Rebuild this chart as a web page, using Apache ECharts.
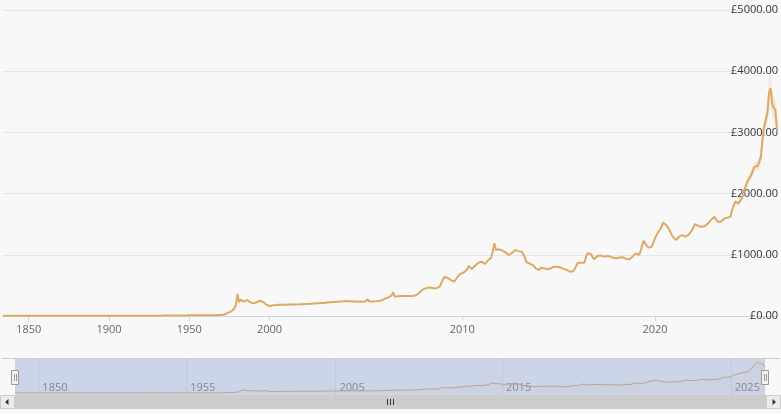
<!DOCTYPE html>
<html>
<head>
<meta charset="utf-8">
<script src="https://cdn.jsdelivr.net/npm/echarts@6/dist/echarts.min.js"></script>
<style>
html,body{margin:0;padding:0;background:#f8f8f8}
#chart{width:781px;height:414px}
</style>
</head>
<body>
<div id="chart"></div>
<script>
// gold price in GBP per oz: yearly 1834-1999, then monthly from 2000-01
const firstYear = 1834;
const yearlyPrice = [
  4.25, 4.25, 4.25, 4.25, 4.25, 4.25, 4.25, 4.25, 4.25, 4.25,
  4.25, 4.25, 4.25, 4.25, 4.25, 4.25, 4.25, 4.25, 4.25, 4.25,
  4.25, 4.25, 4.25, 4.25, 4.25, 4.25, 4.25, 4.25, 4.25, 4.25,
  4.25, 4.25, 4.25, 4.25, 4.25, 4.25, 4.25, 4.25, 4.25, 4.25,
  4.25, 4.25, 4.25, 4.25, 4.25, 4.25, 4.25, 4.25, 4.25, 4.25,
  4.25, 4.25, 4.25, 4.25, 4.25, 4.25, 4.25, 4.25, 4.25, 4.25,
  4.25, 4.25, 4.25, 4.25, 4.25, 4.25, 4.25, 4.25, 4.25, 4.25,
  4.25, 4.25, 4.25, 4.25, 4.25, 4.25, 4.25, 4.25, 4.25, 4.25,
  4.25, 4.25, 4.25, 4.25, 4.25, 4.6, 5.4, 5.0, 4.6, 4.5,      // 1914
  4.6, 4.25, 4.25, 4.25, 4.25, 4.25, 4.25, 4.9, 5.9, 6.3,     // 1924
  6.9, 7.1, 7.0, 7.0, 7.1, 7.7, 8.4, 8.4, 8.4, 8.4,           // 1934
  8.4, 8.4, 8.4, 8.4, 8.4, 10.6, 12.4, 12.4, 12.4, 12.4,      // 1944
  12.4, 12.4, 12.4, 12.4, 12.4, 12.4, 12.4, 12.4, 12.4, 12.4, // 1954
  12.4, 12.4, 12.4, 12.9, 16.2, 17.2, 15.0, 16.8, 24, 40,     // 1964
  55, 68, 72, 88, 120, 175, 359, 225, 268, 250,               // 1974
  234, 255, 261, 235, 224, 210, 207, 207, 225, 245,           // 1984
  250, 245, 230, 207, 185, 169                                // 1994
];
const monthlyPrice = [
  160, 158, 175, 180, 178, 180, 182, 181, 182, 183, 184, 185,           // 2000
  186, 187, 186, 188, 189, 190, 191, 192, 194, 195, 196, 196,           // 2001
  198, 200, 202, 204, 206, 208, 210, 211, 212, 213, 214, 216,           // 2002
  220, 222, 224, 226, 228, 230, 232, 234, 236, 238, 240, 242,           // 2003
  245, 244, 242, 240, 238, 236, 236, 235, 234, 234, 233, 234,           // 2004
  240, 278, 236, 234, 236, 238, 240, 242, 245, 250, 256, 268,           // 2005
  285, 295, 305, 320, 338, 387, 316, 320, 322, 325, 326, 327,           // 2006
  327, 328, 326, 327, 328, 330, 332, 340, 350, 370, 400, 430,           // 2007
  440, 452, 460, 469, 465, 460, 455, 452, 455, 465, 479, 540,           // 2008
  600, 640, 654, 620, 600, 588, 575, 561, 600, 640, 660, 690,           // 2009
  700, 710, 724, 760, 817, 800, 768, 790, 820, 850, 870, 880,           // 2010
  888, 870, 850, 880, 910, 930, 953, 1050, 1188, 1080, 1085, 1089,      // 2011
  1080, 1070, 1067, 1040, 1010, 997, 1010, 1030, 1060, 1078, 1070, 1060, // 2012
  1055, 1052, 1051, 960, 880, 861, 855, 850, 830, 800, 775, 760,        // 2013
  752, 790, 795, 780, 770, 765, 763, 775, 790, 805, 817, 805,           // 2014
  800, 795, 785, 770, 760, 752, 740, 725, 708, 730, 768, 820,           // 2015
  871, 875, 872, 870, 871, 960, 1024, 1020, 1015, 1013, 926, 950,       // 2016
  975, 997, 990, 980, 970, 975, 980, 986, 975, 960, 950, 942,           // 2017
  945, 950, 955, 958, 959, 950, 935, 915, 925, 945, 970, 985,           // 2018
  1024, 1010, 997, 1050, 1150, 1231, 1180, 1150, 1117, 1125, 1132, 1200, // 2019
  1269, 1320, 1370, 1405, 1450, 1525, 1500, 1487, 1450, 1405, 1350, 1300, // 2020
  1270, 1242, 1270, 1296, 1310, 1323, 1310, 1296, 1310, 1330, 1351, 1400, // 2021
  1450, 1503, 1490, 1471, 1465, 1460, 1459, 1470, 1480, 1510, 1541, 1570, // 2022
  1600, 1623, 1580, 1540, 1515, 1540, 1570, 1590, 1596, 1605, 1615, 1623, // 2023
  1732, 1800, 1868, 1850, 1841, 1880, 1923, 2000, 2087, 2150, 2222, 2260, // 2024
  2304, 2380, 2440, 2451, 2451, 2451, 2600, 2900, 3093, 3200, 3312, 3639, // 2025
  3721, 3476, 3400, 3366, 3039                                          // 2026
];
// high/low range shown as a faint band, from 2024-01
const bandStart = '2024-01';
const bandLow = [
  1700, 1760, 1820, 1810, 1800, 1840, 1880, 1950, 2030, 2090, 2150, 2200,
  2240, 2310, 2370, 2380, 2370, 2380, 2500, 2760, 2950, 3050, 3150, 3420,
  3450, 3250, 3180, 3150, 2950
];
const bandHigh = [
  1770, 1840, 1900, 1880, 1880, 1920, 1970, 2060, 2140, 2220, 2290, 2320,
  2380, 2450, 2520, 2540, 2540, 2560, 2750, 3020, 3230, 3330, 3500, 3900,
  3990, 3680, 3600, 3560, 3300
];
const xTickYears = ['1850', '1900', '1950', '2000', '2010', '2020'];
const navLabels = ['1850', '1955', '2005', '2015', '2025'];

// navigator labels sit on the navigator's own ordinal scale (category index)
const navTickAt = [15, 110, 206, 313, 460];

const cats = [];
for (let i = 0; i < yearlyPrice.length; i++) cats.push(String(firstYear + i));
for (let i = 0; i < monthlyPrice.length; i++) {
  let y = 2000 + Math.floor(i / 12), m = i % 12 + 1;
  cats.push(y + '-' + (m < 10 ? '0' + m : m));
}
const price = yearlyPrice.concat(monthlyPrice);
const bandFrom = cats.indexOf(bandStart);
const lowData = cats.map((c, i) => (i >= bandFrom ? bandLow[i - bandFrom] : '-'));
const spanData = cats.map((c, i) => (i >= bandFrom ? bandHigh[i - bandFrom] - bandLow[i - bandFrom] : '-'));

function isMainTick(idx) {
  let c = cats[idx];
  return xTickYears.indexOf(c.slice(0, 4)) > -1 && (c.length === 4 || c.slice(5) === '01');
}
function isNavTick(idx) {
  return navTickAt.indexOf(idx) > -1;
}

const FONT = 'Open Sans';
const myChart = echarts.init(document.getElementById('chart'));
myChart.setOption({
  backgroundColor: '#f8f8f8',
  animation: false,
  grid: [
    { left: 3, right: 4, top: 10, bottom: 98 },
    { left: 15, right: 16, top: 359, height: 36, show: true, borderWidth: 0, backgroundColor: 'rgba(102,133,194,0.3)' }
  ],
  xAxis: [{
    type: 'category', gridIndex: 0, data: cats, boundaryGap: false,
    axisLine: { lineStyle: { color: '#ccd6eb' } },
    axisTick: { interval: isMainTick, length: 5, lineStyle: { color: '#ccd6eb' } },
    axisLabel: {
      interval: isMainTick, margin: 8, color: '#666', fontSize: 11, fontFamily: FONT,
      formatter: v => v.slice(0, 4)
    },
    splitLine: { show: false }
  }, {
    type: 'category', gridIndex: 1, data: cats, boundaryGap: false,
    axisLine: { show: false }, axisTick: { show: false },
    axisLabel: {
      interval: isNavTick, inside: true, margin: 2, align: 'left', padding: [0, 0, 0, 4],
      color: '#7f8796', fontSize: 11, fontFamily: FONT,
      formatter: (v, idx) => navLabels[navTickAt.indexOf(idx)]
    },
    splitLine: { show: true, interval: isNavTick, lineStyle: { color: '#bfc9dc' } }
  }],
  yAxis: [{
    type: 'value', gridIndex: 0, position: 'right', min: 0, max: 5000, interval: 1000,
    axisLine: { show: false }, axisTick: { show: false },
    axisLabel: {
      inside: true, margin: -1, color: '#333', fontSize: 11, fontFamily: FONT,
      formatter: v => '£' + v.toFixed(2)
    },
    splitLine: { lineStyle: { color: '#e6e6e6' } }
  }, {
    type: 'value', gridIndex: 1, min: -250, max: 4000, show: false
  }],
  series: [{
    type: 'line', name: 'low', xAxisIndex: 0, yAxisIndex: 0, stack: 'band',
    data: lowData, showSymbol: false, lineStyle: { width: 0 }, silent: true
  }, {
    type: 'line', name: 'range', xAxisIndex: 0, yAxisIndex: 0, stack: 'band',
    data: spanData, showSymbol: false, lineStyle: { width: 0 }, silent: true,
    areaStyle: { color: 'rgba(222,170,100,0.28)' }
  }, {
    type: 'line', name: 'Gold', xAxisIndex: 0, yAxisIndex: 0,
    data: price, showSymbol: false,
    lineStyle: { color: '#dcaa64', width: 2 }
  }, {
    type: 'line', name: 'nav', xAxisIndex: 1, yAxisIndex: 1,
    data: price, showSymbol: false, silent: true,
    lineStyle: { color: '#b8a48c', width: 1 },
    areaStyle: { color: 'rgba(222,170,100,0.06)' }
  }],
  graphic: [
    // navigator outline
    { type: 'line', silent: true, shape: { x1: 2, y1: 358.5, x2: 780, y2: 358.5 }, style: { stroke: '#cccccc', lineWidth: 1 } },
    // navigator handles
    { type: 'rect', silent: true, shape: { x: 11.5, y: 370.5, width: 7, height: 14 }, style: { fill: '#f2f2f2', stroke: '#999', lineWidth: 1 } },
    { type: 'line', silent: true, shape: { x1: 14.5, y1: 374, x2: 14.5, y2: 381 }, style: { stroke: '#999', lineWidth: 1 } },
    { type: 'line', silent: true, shape: { x1: 16.5, y1: 374, x2: 16.5, y2: 381 }, style: { stroke: '#999', lineWidth: 1 } },
    { type: 'rect', silent: true, shape: { x: 761.5, y: 370.5, width: 7, height: 14 }, style: { fill: '#f2f2f2', stroke: '#999', lineWidth: 1 } },
    { type: 'line', silent: true, shape: { x1: 764.5, y1: 374, x2: 764.5, y2: 381 }, style: { stroke: '#999', lineWidth: 1 } },
    { type: 'line', silent: true, shape: { x1: 766.5, y1: 374, x2: 766.5, y2: 381 }, style: { stroke: '#999', lineWidth: 1 } },
    // scrollbar
    { type: 'rect', silent: true, shape: { x: 0, y: 395, width: 781, height: 14 }, style: { fill: '#f2f2f2' } },
    { type: 'rect', silent: true, shape: { x: 15, y: 395, width: 751, height: 14 }, style: { fill: '#cccccc' } },
    { type: 'rect', silent: true, shape: { x: 0.5, y: 395.5, width: 14, height: 13 }, style: { fill: '#ebebeb', stroke: '#cccccc' } },
    { type: 'polygon', silent: true, shape: { points: [[5, 402], [8.5, 399], [8.5, 405]] }, style: { fill: '#333' } },
    { type: 'rect', silent: true, shape: { x: 766.5, y: 395.5, width: 14, height: 13 }, style: { fill: '#ebebeb', stroke: '#cccccc' } },
    { type: 'polygon', silent: true, shape: { points: [[776, 402], [772.5, 399], [772.5, 405]] }, style: { fill: '#333' } },
    { type: 'line', silent: true, shape: { x1: 387.5, y1: 399, x2: 387.5, y2: 405 }, style: { stroke: '#333', lineWidth: 1 } },
    { type: 'line', silent: true, shape: { x1: 390.5, y1: 399, x2: 390.5, y2: 405 }, style: { stroke: '#333', lineWidth: 1 } },
    { type: 'line', silent: true, shape: { x1: 393.5, y1: 399, x2: 393.5, y2: 405 }, style: { stroke: '#333', lineWidth: 1 } }
  ]
});
</script>
</body>
</html>
